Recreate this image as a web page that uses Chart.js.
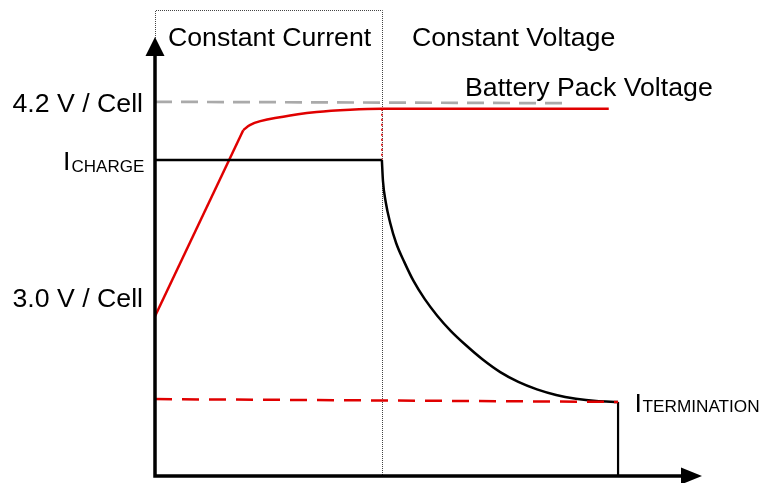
<!DOCTYPE html>
<html><head><meta charset="utf-8">
<script src="https://cdn.jsdelivr.net/npm/chart.js@4"></script>
<style>html,body{margin:0;padding:0;background:#fff}canvas{display:block}</style>
</head><body>
<canvas id="c" width="761" height="483"></canvas>
<script>
// ---- Data (schematic: time 0-100, level 0-100) ----
const voltageTime      = [0, 16.1, 17.3, 23.4, 29.5, 35.6, 41.4, 82.8];
const voltageLevel     = [34.3, 74.2, 75.3, 77.1, 78.1, 78.6, 78.8, 78.8];
const currentTime      = [0, 41.4, 41.6, 42.1, 42.9, 44.0, 45.5, 47.2, 49.2, 51.5, 54.0, 56.8, 59.8, 63.0, 66.3, 69.7, 73.2, 76.8, 80.5, 84.5];
const currentLevel     = [67.8, 67.8, 63.3, 58.8, 54.4, 50.0, 45.9, 41.8, 38.0, 34.4, 31.1, 28.0, 25.0, 22.3, 20.2, 18.6, 17.4, 16.6, 16.1, 15.9];
const cellLimitTime    = [0, 75.4];
const cellLimitLevel   = [80.3, 80.0];
const terminationTime  = [0, 84.5];
const terminationLevel = [16.5, 15.9];
const phaseTime        = [0, 41.4];
const phaseLabels      = ['Constant Current', 'Constant Voltage'];
const curveLabels      = ['Battery Pack Voltage'];
const levelLabels      = ['4.2 V / Cell', '3.0 V / Cell'];
const currentLabels    = [['I', 'CHARGE'], ['I', 'TERMINATION']];

const pts = (xs, ys) => xs.map((x, i) => ({x: x, y: ys[i]}));
const last = a => a[a.length - 1];
const RED = '#e00000';
const FONT = '"Liberation Sans", Arial, sans-serif';

const boxPlugin = {
  id: 'phaseBox',
  beforeDatasetsDraw(chart) {
    const {ctx, scales: {x, y}} = chart;
    ctx.save();
    ctx.strokeStyle = '#444';
    ctx.lineWidth = 1;
    ctx.setLineDash([1, 1]);
    const l = Math.round(x.getPixelForValue(phaseTime[0])) + 0.5;
    const r = Math.round(x.getPixelForValue(phaseTime[1])) + 0.5;
    const t = Math.round(y.getPixelForValue(100)) + 0.5;
    const b = y.getPixelForValue(0);
    ctx.beginPath();
    ctx.moveTo(l, b); ctx.lineTo(l, t); ctx.lineTo(r, t); ctx.lineTo(r, b);
    ctx.stroke();
    ctx.restore();
  }
};

const decoPlugin = {
  id: 'deco',
  afterDraw(chart) {
    const {ctx, chartArea: ca} = chart;
    const x0 = ca.left, y0 = ca.bottom;
    ctx.save();
    // axes
    ctx.strokeStyle = '#000';
    ctx.fillStyle = '#000';
    ctx.lineWidth = 3.5;
    ctx.beginPath();
    ctx.moveTo(x0, y0 + 1.75); ctx.lineTo(x0, 54);
    ctx.moveTo(x0 - 1.75, y0); ctx.lineTo(683, y0);
    ctx.stroke();
    ctx.beginPath();
    ctx.moveTo(x0, 37); ctx.lineTo(x0 - 9.5, 56); ctx.lineTo(x0 + 9.5, 56); ctx.closePath();
    ctx.fill();
    ctx.beginPath();
    ctx.moveTo(702, y0); ctx.lineTo(681, y0 - 8.5); ctx.lineTo(681, y0 + 8.5); ctx.closePath();
    ctx.fill();
    // texts
    ctx.textBaseline = 'alphabetic';
    ctx.font = '26.7px ' + FONT;
    ctx.textAlign = 'left';
    ctx.fillText(phaseLabels[0], 168, 46);
    ctx.fillText(phaseLabels[1], 412, 46);
    ctx.fillText(curveLabels[0], 465, 96);
    ctx.textAlign = 'right';
    ctx.fillText(levelLabels[0], 143, 112);
    ctx.fillText(levelLabels[1], 143, 307);
    ctx.textAlign = 'left';
    // I CHARGE
    ctx.font = '26.7px ' + FONT;
    ctx.fillText(currentLabels[0][0], 63, 170);
    ctx.font = '17px ' + FONT;
    ctx.fillText(currentLabels[0][1], 71.5, 172);
    // I TERMINATION
    ctx.font = '26.7px ' + FONT;
    ctx.fillText(currentLabels[1][0], 634.5, 411.5);
    ctx.font = '17.2px ' + FONT;
    ctx.fillText(currentLabels[1][1], 642.5, 412);
    ctx.restore();
  }
};

const line = (data, color, width, extra) => Object.assign({
  data: data, borderColor: color, borderWidth: width, pointRadius: 0,
  fill: false, tension: 0, clip: false
}, extra || {});

new Chart(document.getElementById('c'), {
  type: 'line',
  data: {
    datasets: [
      line(pts(terminationTime, terminationLevel), RED, 2.5, {borderDash: [17, 10]}),
      line(pts([last(currentTime), last(currentTime)], [last(currentLevel), 0]), '#000', 2.2),
      line(pts(currentTime.slice(0, 2), currentLevel.slice(0, 2)), '#000', 2.5),
      line(pts(currentTime.slice(1), currentLevel.slice(1)), '#000', 2.5, {cubicInterpolationMode: 'monotone'}),
      line(pts(voltageTime.slice(0, 2), voltageLevel.slice(0, 2)), RED, 2.5),
      line(pts(voltageTime.slice(1), voltageLevel.slice(1)), RED, 2.5, {cubicInterpolationMode: 'monotone'}),
      line(pts([phaseTime[1], phaseTime[1]], [voltageLevel[6], currentLevel[1]]), RED, 1.5, {borderDash: [2, 3]}),
      line(pts(cellLimitTime, cellLimitLevel), '#aaaaaa', 2.7, {borderDash: [17, 9]})
    ]
  },
  options: {
    responsive: false,
    animation: false,
    events: [],
    layout: {padding: {left: 155, right: 58, top: 10, bottom: 7}},
    scales: {
      x: {type: 'linear', min: 0, max: 100, display: false},
      y: {type: 'linear', min: 0, max: 100, display: false}
    },
    plugins: {legend: {display: false}, tooltip: {enabled: false}, title: {display: false}}
  },
  plugins: [boxPlugin, decoPlugin]
});
</script>
</body></html>
